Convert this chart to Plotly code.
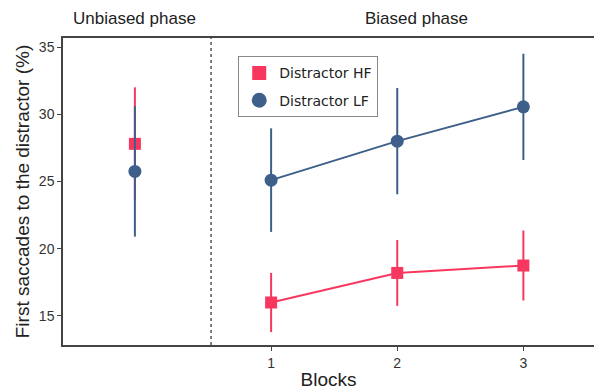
import plotly.graph_objects as go

blocks = [1, 2, 3]
hf_block = [16.0, 18.2, 18.75]
hf_block_err = [2.2, 2.45, 2.6]
lf_block = [25.1, 28.0, 30.55]
lf_block_err = [3.85, 3.95, 3.95]

unbiased_x = [-0.08]
hf_unbiased = [27.8]
hf_unbiased_err = [4.2]
lf_unbiased = [25.75]
lf_unbiased_err = [4.85]

HF_COLOR = "#F8375F"
LF_COLOR = "#3E5F8A"
FONT = "Liberation Sans, Arial, sans-serif"
LEG_FONT = "DejaVu Sans, sans-serif"

fig = go.Figure()

fig.add_trace(go.Scatter(
    x=unbiased_x, y=hf_unbiased, mode="markers",
    marker=dict(symbol="square", size=12, color=HF_COLOR),
    error_y=dict(type="data", array=hf_unbiased_err, color=HF_COLOR, thickness=2, width=0),
    showlegend=False))
fig.add_trace(go.Scatter(
    x=blocks, y=hf_block, mode="lines+markers", name="Distractor HF",
    line=dict(color=HF_COLOR, width=2),
    marker=dict(symbol="square", size=12, color=HF_COLOR),
    error_y=dict(type="data", array=hf_block_err, color=HF_COLOR, thickness=2, width=0),
    showlegend=False))
fig.add_trace(go.Scatter(
    x=unbiased_x, y=lf_unbiased, mode="markers",
    marker=dict(symbol="circle", size=13, color=LF_COLOR),
    error_y=dict(type="data", array=lf_unbiased_err, color=LF_COLOR, thickness=2, width=0),
    showlegend=False))
fig.add_trace(go.Scatter(
    x=blocks, y=lf_block, mode="lines+markers", name="Distractor LF",
    line=dict(color=LF_COLOR, width=2),
    marker=dict(symbol="circle", size=13, color=LF_COLOR),
    error_y=dict(type="data", array=lf_block_err, color=LF_COLOR, thickness=2, width=0),
    showlegend=False))

# legend entries (markers only, as in the reference)
fig.add_trace(go.Scatter(x=[None], y=[None], mode="markers", name="Distractor HF",
                         legendgroup="hf",
                         marker=dict(symbol="square", size=14, color=HF_COLOR)))
fig.add_trace(go.Scatter(x=[None], y=[None], mode="markers", name="Distractor LF",
                         legendgroup="lf",
                         marker=dict(symbol="circle", size=15, color=LF_COLOR)))

fig.add_shape(type="line", xref="x", yref="paper", x0=0.524, x1=0.524, y0=0, y1=1,
              line=dict(color="#555555", width=1.5, dash="dot"))

fig.add_annotation(text="Unbiased phase", xref="x", yref="paper", x=-0.08, y=1.0,
                   yshift=8, yanchor="bottom", showarrow=False,
                   font=dict(size=17, color="#222222", family=FONT))
fig.add_annotation(text="Biased phase", xref="x", yref="paper", x=2.15, y=1.0,
                   yshift=8, yanchor="bottom", showarrow=False,
                   font=dict(size=17, color="#222222", family=FONT))

fig.update_layout(
    width=594, height=390,
    margin=dict(l=63, r=0, t=38, b=45),
    paper_bgcolor="white", plot_bgcolor="white",
    font=dict(family=FONT, color="#222222"),
    legend=dict(x=0.33, y=0.94, xanchor="left", yanchor="top",
                bordercolor="#888888", borderwidth=1, bgcolor="white",
                font=dict(size=14, color="#222222", family=LEG_FONT),
                tracegroupgap=6, itemwidth=30),
    xaxis=dict(range=[-0.65, 3.56], tickvals=blocks, ticktext=[str(b) for b in blocks],
               showgrid=False, zeroline=False, showline=True, linecolor="#444444",
               linewidth=1.5, mirror=True, ticks="outside", ticklen=4, tickcolor="#444444",
               tickfont=dict(size=14, color="#333333"),
               title=dict(text="Blocks", font=dict(size=19, color="#222222"), standoff=6)),
    yaxis=dict(range=[12.84, 35.67], tickvals=[15, 20, 25, 30, 35],
               showgrid=False, zeroline=False, showline=True, linecolor="#444444",
               linewidth=1.5, ticks="outside", ticklen=4, tickcolor="#444444",
               tickfont=dict(size=14, color="#333333"),
               title=dict(text="First saccades to the distractor (%)",
                          font=dict(size=19, color="#222222"), standoff=4)),
)

fig.write_html("out.html")
